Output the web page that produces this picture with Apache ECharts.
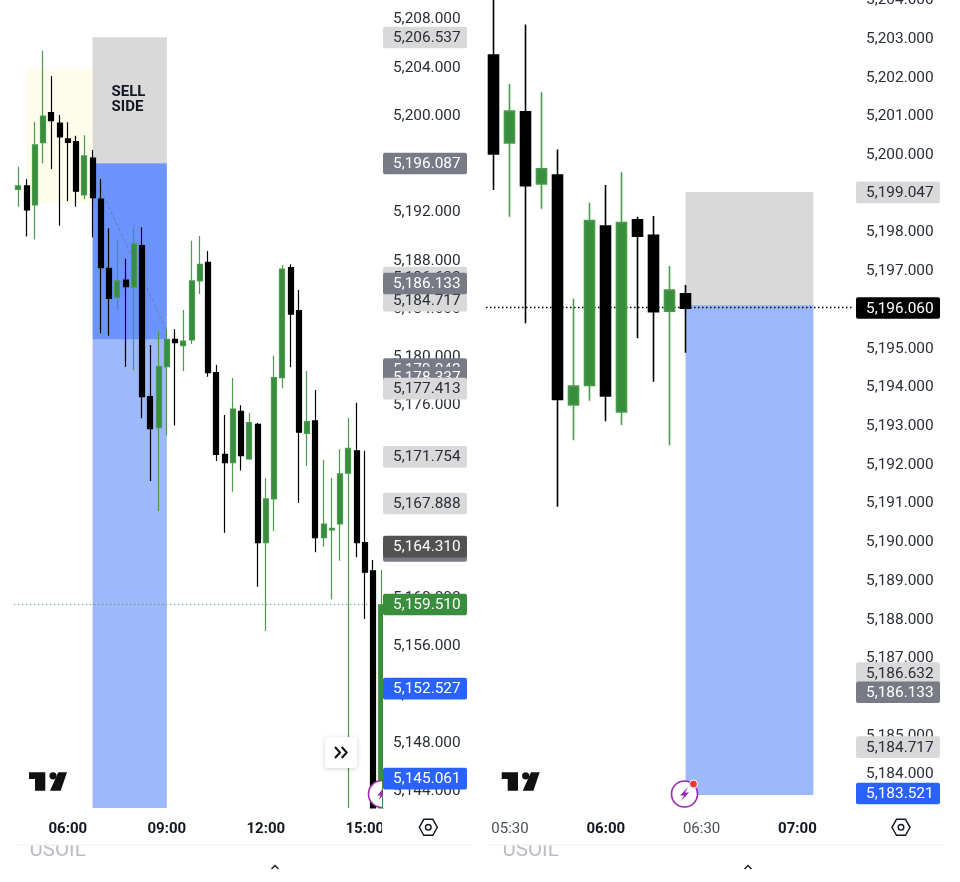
<!DOCTYPE html>
<html><head><meta charset="utf-8">
<style>html,body{margin:0;padding:0;background:#fff}#c{width:960px;height:882px}</style>
<script src="https://cdn.jsdelivr.net/npm/echarts@6/dist/echarts.min.js"></script>
</head><body><div id="c"></div>
<script>
const leftTimes=['04:30','04:45','05:00','05:15','05:30','05:45','06:00','06:15','06:30','06:45','07:00','07:15','07:30','07:45','08:00','08:15','08:30','08:45','09:00','09:15','09:30','09:45','10:00','10:15','10:30','10:45','11:00','11:15','11:30','11:45','12:00','12:15','12:30','12:45','13:00','13:15','13:30','13:45','14:00','14:15','14:30','14:45','15:00','15:15','15:30'];
const leftOpen=[5193.92,5194.20,5192.62,5197.79,5200.28,5199.42,5198.10,5197.87,5193.45,5196.52,5193.12,5187.37,5184.97,5186.40,5185.80,5189.25,5176.72,5174.15,5179.21,5181.48,5180.95,5181.42,5186.32,5187.87,5178.71,5171.94,5171.25,5175.51,5171.55,5174.43,5164.61,5168.24,5178.30,5187.42,5183.86,5173.68,5174.71,5165.02,5165.66,5166.16,5170.37,5172.22,5164.61,5162.27,5142.6];
const leftClose=[5194.20,5192.21,5197.60,5200.00,5199.61,5198.26,5197.82,5193.76,5196.69,5193.23,5187.42,5184.88,5186.32,5185.85,5189.39,5176.72,5174.07,5179.21,5181.48,5181.20,5181.34,5186.32,5187.70,5178.71,5171.94,5171.25,5175.70,5171.83,5174.57,5164.61,5168.24,5178.30,5187.31,5183.56,5173.77,5174.65,5165.02,5166.16,5165.80,5170.31,5172.44,5164.61,5162.16,5142.6,5159.45];
const leftLow=[5192.48,5190.00,5189.78,5196.08,5195.61,5190.90,5192.95,5192.48,5193.09,5189.94,5181.98,5181.78,5183.91,5179.21,5178.93,5174.93,5169.73,5167.24,5173.49,5174.32,5178.85,5181.09,5185.24,5178.38,5171.39,5165.44,5168.84,5170.59,5171.47,5160.96,5157.29,5165.58,5177.42,5179.16,5167.90,5170.97,5163.81,5164.28,5159.91,5163.12,5142.6,5163.40,5158.28,5142.6,5142.6];
const leftHigh=[5195.80,5194.75,5199.53,5205.42,5203.32,5200.09,5199.48,5198.37,5198.40,5197.18,5194.78,5190.69,5189.72,5188.17,5190.82,5190.77,5181.01,5182.11,5182.34,5182.31,5183.91,5189.66,5190.05,5188.81,5179.35,5175.20,5178.27,5176.01,5175.37,5174.54,5169.95,5180.12,5187.65,5187.70,5185.57,5178.85,5177.28,5171.47,5170.00,5172.36,5174.98,5176.22,5172.24,5163.18,5162.35];
const leftTicks=[5208,5204,5200,5196,5192,5188,5184,5180,5176,5172,5168,5164,5160,5156,5152,5148,5144];
const leftTimeLabels=['06:00','09:00','12:00','15:00'];
const leftBoldLabels=['06:00','09:00','12:00','15:00'];
const leftTagValues=[5206.537,5196.087,5186.632,5184.717,5186.133,5179.042,5178.337,5177.413,5171.754,5167.888,5163.95,5164.310,5159.510,5152.527,5145.061];
const leftTagTexts=['5,206.537','5,196.087','5,186.632','5,184.717','5,186.133','5,179.042','5,178.337','5,177.413','5,171.754','5,167.888','','5,164.310','5,159.510','5,152.527','5,145.061'];
const leftTagKinds=['light','mid','light','light','mid','mid','mid','light','light','light','mid','dark','green','blue','blue'];

const rightTimes=['05:25','05:30','05:35','05:40','05:45','05:50','05:55','06:00','06:05','06:10','06:15','06:20','06:25','06:30','06:35','06:40','06:45','06:50','06:55','07:00','07:05','07:10','07:15'];
const rightOpen=[5202.59,5200.32,5201.12,5199.26,5199.49,5193.55,5194.05,5198.17,5193.37,5198.33,5197.93,5195.97,5196.42];
const rightClose=[5200.03,5201.14,5199.21,5199.65,5193.69,5194.04,5198.31,5193.78,5198.26,5197.91,5195.96,5196.52,5196.05];
const rightLow=[5199.10,5198.41,5195.66,5198.62,5190.92,5192.64,5193.66,5193.13,5193.03,5195.27,5194.15,5192.51,5194.90];
const rightHigh=[5204.01,5201.84,5203.38,5201.63,5200.15,5196.29,5198.77,5199.23,5199.56,5198.41,5198.43,5197.14,5196.65];
const rightTicks=[5204,5203,5202,5201,5200,5199,5198,5197,5196,5195,5194,5193,5192,5191,5190,5189,5188,5187,5186,5185,5184];
const rightTimeLabels=['05:30','06:00','06:30','07:00'];
const rightBoldLabels=['06:00','07:00'];
const rightTagValues=[5199.047,5186.632,5186.133,5184.717,5183.521,5196.060];
const rightTagTexts=['5,199.047','5,186.632','5,186.133','5,184.717','5,183.521','5,196.060'];
const rightTagKinds=['light','light','mid','light','blue','black'];

const GREEN='#388e3c',WICK='#4a9a4e',TEXT='#2a2e39',INK='#131722';
const tagStyles={light:['#d9d9d9',TEXT],mid:['#787b86','#fff'],dark:['#525252','#fff'],green:[GREEN,'#fff'],blue:['#2962ff','#fff'],black:['#000','#fff']};
const FONT='Roboto';
const leftMin=5142.60,leftMax=5209.626,rightMin=5183.137,rightMax=5204.010;
const fmt=v=>v.toLocaleString('en-US',{minimumFractionDigits:3,maximumFractionDigits:3});

function xAxis(idx,cats,shown,bold){
  return {type:'category',gridIndex:idx,data:cats,boundaryGap:true,
    axisLine:{show:false},axisTick:{show:false},splitLine:{show:false},axisPointer:{show:false},
    axisLabel:{margin:14,hideOverlap:false,interval:(i,v)=>shown.includes(v),
      formatter:v=>bold.includes(v)?'{b|'+v+'}':'{n|'+v+'}',
      rich:{b:{fontFamily:FONT,fontWeight:'bold',fontSize:15,color:INK},n:{fontFamily:FONT,fontSize:15,color:'#4a4e59'}}}};
}
function yAxis(idx,min,max,ticks,margin){
  return {type:'value',gridIndex:idx,position:'right',min,max,
    axisLine:{show:false},axisTick:{show:false},splitLine:{show:false},axisPointer:{show:false},
    axisLabel:{margin,fontFamily:FONT,fontSize:15.4,color:TEXT,padding:[0,0,1,0],customValues:ticks,formatter:v=>fmt(v),showMinLabel:true,showMaxLabel:true}};
}
function candles(idx,o,c,l,h,barWidth,lineW,areas,lines){
  return {type:'candlestick',xAxisIndex:idx,yAxisIndex:idx,z:3,barWidth,silent:true,
    data:o.map((v,i)=>[v,c[i],l[i],h[i]]),
    itemStyle:{color:GREEN,color0:'#000',borderColor:WICK,borderColor0:'#000',borderWidth:lineW},
    markArea:{silent:true,z:1,data:areas},
    markLine:{silent:true,z:1,symbol:'none',label:{show:false},data:lines,animation:false}};
}
function area(color,x0,y0,x1,y1,label){
  const a={xAxis:x0,yAxis:y0,itemStyle:{color,opacity:1}};
  if(label) a.label=label;
  return [a,{xAxis:x1,yAxis:y1}];
}
function tags(idx,vals,texts,kinds,tx,tw){
  return {type:'custom',xAxisIndex:idx,yAxisIndex:idx,z:20,silent:true,clip:false,
    encode:{x:0,y:1},data:vals.map(v=>[0,v]),
    renderItem:(p,api)=>{
      const y=api.coord([0,api.value(1)])[1],s=tagStyles[kinds[p.dataIndex]];
      return {type:'group',children:[
        {type:'rect',z2:p.dataIndex*2,shape:{x:tx,y:y-10.5,width:tw,height:21.6,r:2},style:{fill:s[0]}},
        {type:'text',z2:p.dataIndex*2+1,style:{x:tx+10,y:y+1,text:texts[p.dataIndex],fill:s[1],font:'15.4px '+FONT,textAlign:'left',textVerticalAlign:'middle'}}
      ]};
    }};
}
const sellLabel={show:true,formatter:'SELL\nSIDE',position:[19,47.5],align:'left',verticalAlign:'top',fontFamily:FONT,fontWeight:'bold',fontSize:15,lineHeight:15,color:INK};

function logo(dx){return [
  {type:'polygon',z:12,shape:{points:[[29+dx,772.3],[45.3+dx,772.3],[45.3+dx,790.7],[35+dx,790.7],[35+dx,779],[29+dx,779]]},style:{fill:'#111'}},
  {type:'circle',z:12,shape:{cx:53+dx,cy:775.8,r:3.6},style:{fill:'#111'}},
  {type:'polygon',z:12,shape:{points:[[58.3+dx,772.3],[67+dx,772.3],[60.7+dx,790.7],[50+dx,790.7]]},style:{fill:'#111'}}
];}
function gear(cx){const cy=827.3;return [
  {type:'polygon',z:12,shape:{points:[[cx-9,cy],[cx-4.5,cy-8],[cx+4.5,cy-8],[cx+9,cy],[cx+4.5,cy+8],[cx-4.5,cy+8]]},style:{fill:'#fff',stroke:INK,lineWidth:1.4}},
  {type:'circle',z:12,shape:{cx,cy,r:2.8},style:{fill:'#fff',stroke:INK,lineWidth:1.4}}
];}
function footer(x0,x1,tx,cx){return [
  {type:'text',z:11,style:{x:tx,y:840,text:'USOIL',fill:'#b9bcc2',font:'20.5px '+FONT}},
  {type:'rect',z:11.5,shape:{x:x0+10,y:838,width:80,height:7},style:{fill:'#fff'}},
  {type:'line',z:12,shape:{x1:x0,y1:845,x2:x1,y2:845},style:{stroke:'#eceef1',lineWidth:1}},
  {type:'polyline',z:12,shape:{points:[[cx-3.5,869],[cx,865.5],[cx+3.5,869]]},style:{stroke:'#222',lineWidth:1.5,fill:'none'}}
];}
const bolt=(cx,cy)=>[[cx+3.5,cy-7],[cx-4.5,cy+1.5],[cx-0.5,cy+1.5],[cx-3.5,cy+7],[cx+4.5,cy-1.5],[cx+0.5,cy-1.5]];

const option={
  animation:false,backgroundColor:'#fff',
  grid:[
    {left:14.2,width:371.25,top:0,height:808,containLabel:false,outerBoundsMode:'none'},
    {left:486,width:367.3,top:0,height:808,containLabel:false,outerBoundsMode:'none'}
  ],
  xAxis:[xAxis(0,leftTimes,leftTimeLabels,leftBoldLabels),xAxis(1,rightTimes,rightTimeLabels,rightBoldLabels)],
  yAxis:[yAxis(0,leftMin,leftMax,leftTicks,7.5),yAxis(1,rightMin,rightMax,rightTicks,12.7)],
  series:[
    candles(0,leftOpen,leftClose,leftLow,leftHigh,5.5,1.2,[
      area('#fefcea','04:45',5203.97,'06:45',5192.8),
      area('#d9d9d9','06:45',5206.537,'09:00',5196.087,sellLabel),
      area('#6c94ff','06:45',5196.087,'09:00',5181.45),
      area('#9db8fb','06:45',5181.45,'09:00',leftMin)
    ],[
      {yAxis:5159.51,lineStyle:{color:GREEN,type:[1,3],width:1}},
      [{xAxis:'07:00',yAxis:5193.87,lineStyle:{color:'rgba(105,115,150,0.75)',type:'dashed',width:1}},{xAxis:'09:00',yAxis:5182.17}]
    ]),
    candles(1,rightOpen,rightClose,rightLow,rightHigh,10.5,1.6,[
      area('#d9d9d9','06:25',5199.047,'07:05',5196.13),
      area('#9db8fb','06:25',5196.13,'07:05',5183.47)
    ],[
      {yAxis:5196.06,lineStyle:{color:'#000',type:[1.5,2.5],width:1.4}}
    ]),
    tags(0,leftTagValues,leftTagTexts,leftTagKinds,383,84),
    tags(1,rightTagValues,rightTagTexts,rightTagKinds,856,84)
  ],
  graphic:{elements:[
    {type:'rect',z:5,shape:{x:383,y:0,width:5,height:808},style:{fill:'#fff'}},
    {type:'rect',z:10,shape:{x:382,y:809,width:90,height:33},style:{fill:'#fff'}},
    ...logo(0),...logo(472.7),...gear(428.3),...gear(901),
    ...footer(15,472,29.5,275),...footer(488,945,502.5,748),
    {type:'rect',z:12,shape:{x:325,y:737,width:32,height:31,r:4},style:{fill:'#fff',shadowBlur:5,shadowColor:'rgba(0,0,0,0.18)',shadowOffsetY:1}},
    {type:'polyline',z:13,shape:{points:[[335,747],[340,752.5],[335,758]]},style:{stroke:'#111',lineWidth:2,fill:'none'}},
    {type:'polyline',z:13,shape:{points:[[341.7,747],[346.7,752.5],[341.7,758]]},style:{stroke:'#111',lineWidth:2,fill:'none'}},
    {type:'sector',z:13,shape:{cx:382,cy:794,r0:0,r:13.5,startAngle:Math.PI/2,endAngle:Math.PI*1.5,clockwise:true},style:{fill:'#fff'}},
    {type:'arc',z:13,shape:{cx:382,cy:794,r:13.5,startAngle:Math.PI/2,endAngle:Math.PI*1.5,clockwise:true},style:{stroke:'#9c27b0',lineWidth:1.6,fill:'none'}},
    {type:'polygon',z:13,shape:{points:[[382.5,789],[377.5,795.5],[380.5,795.5],[378.5,800],[382.5,796]]},style:{fill:'#9c27b0'}},
    {type:'circle',z:13,shape:{cx:684.5,cy:794,r:13},style:{fill:'#fff',stroke:'#9c27b0',lineWidth:1.6}},
    {type:'polygon',z:13,shape:{points:bolt(684.5,794)},style:{fill:'#9c27b0'}},
    {type:'circle',z:13,shape:{cx:693.5,cy:784,r:4},style:{fill:'#e53935',stroke:'#fff',lineWidth:1}}
  ]}
};
const chart=echarts.init(document.getElementById('c'),null,{renderer:'canvas'});
chart.setOption(option);
</script></body></html>
